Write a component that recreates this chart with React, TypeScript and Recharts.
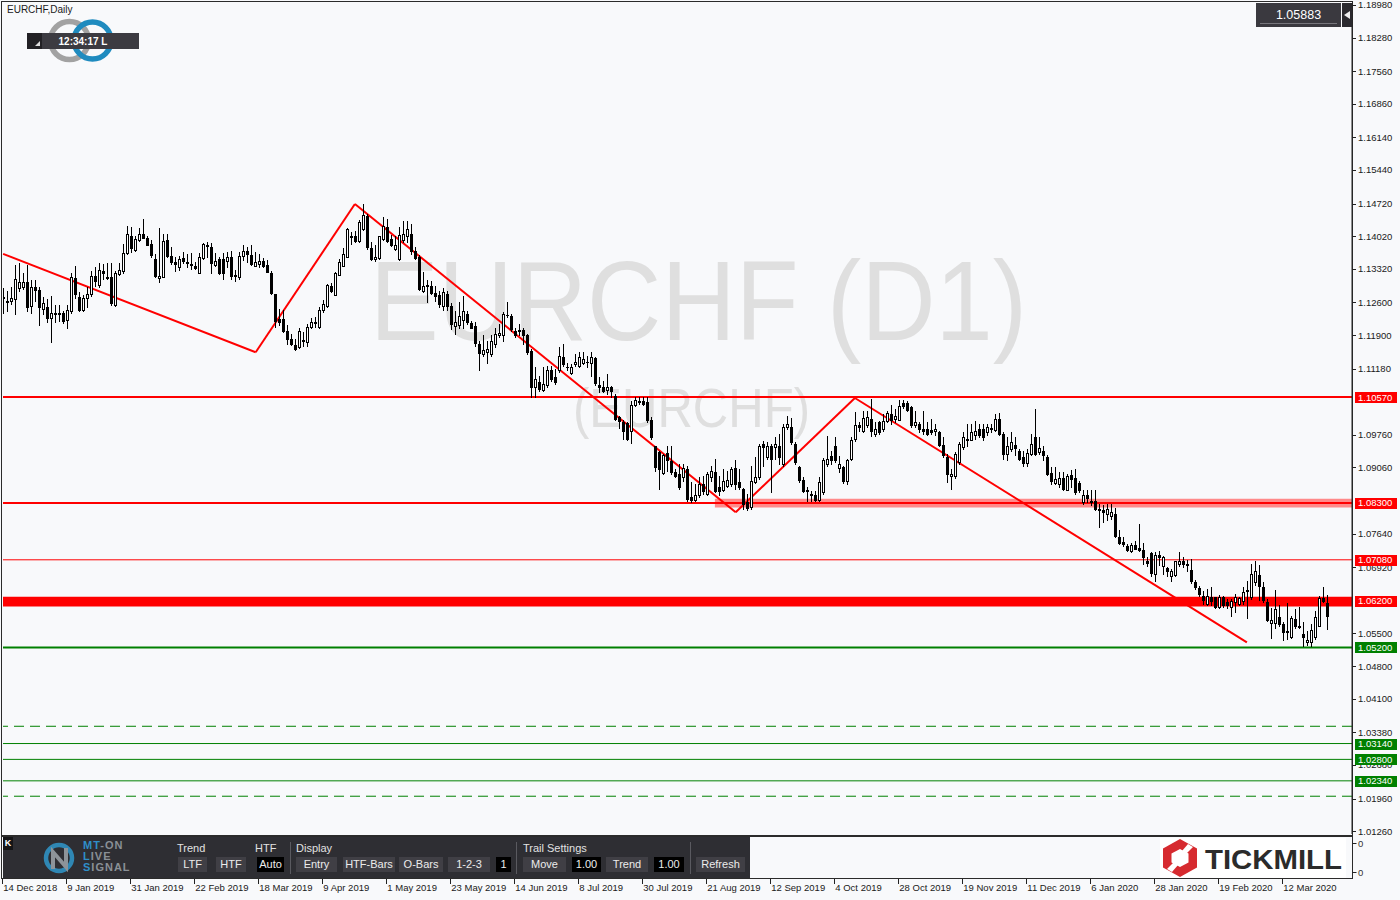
import React from 'react';
import { ComposedChart, Bar, XAxis, YAxis, ReferenceLine, ReferenceArea } from 'recharts';

type Ohlc = [number, number, number, number]; // open, high, low, close

// EURCHF daily bars
const candlesDec18ToMar19: Ohlc[] = [
  [1.1270, 1.1291, 1.1237, 1.1272], [1.1263, 1.1285, 1.1242, 1.1261], [1.1264, 1.1294, 1.1257, 1.1270],
  [1.1267, 1.1340, 1.1235, 1.1310], [1.1291, 1.1344, 1.1285, 1.1304], [1.1294, 1.1323, 1.1289, 1.1304],
  [1.1304, 1.1340, 1.1242, 1.1250], [1.1252, 1.1307, 1.1237, 1.1294], [1.1294, 1.1308, 1.1264, 1.1287],
  [1.1287, 1.1294, 1.1212, 1.1251], [1.1246, 1.1271, 1.1235, 1.1259], [1.1250, 1.1267, 1.1217, 1.1227],
  [1.1227, 1.1274, 1.1175, 1.1237], [1.1237, 1.1255, 1.1217, 1.1235], [1.1237, 1.1255, 1.1221, 1.1235],
  [1.1237, 1.1242, 1.1215, 1.1220], [1.1222, 1.1255, 1.1205, 1.1244], [1.1242, 1.1323, 1.1238, 1.1314],
  [1.1312, 1.1337, 1.1269, 1.1278], [1.1272, 1.1282, 1.1241, 1.1244], [1.1244, 1.1276, 1.1241, 1.1270],
  [1.1270, 1.1294, 1.1251, 1.1278], [1.1278, 1.1328, 1.1274, 1.1317], [1.1317, 1.1335, 1.1296, 1.1305],
  [1.1297, 1.1344, 1.1294, 1.1329], [1.1328, 1.1342, 1.1310, 1.1322], [1.1314, 1.1344, 1.1310, 1.1312],
  [1.1314, 1.1344, 1.1255, 1.1258], [1.1255, 1.1328, 1.1253, 1.1324], [1.1321, 1.1344, 1.1319, 1.1330],
  [1.1328, 1.1385, 1.1323, 1.1366], [1.1366, 1.1424, 1.1364, 1.1407], [1.1403, 1.1422, 1.1367, 1.1377],
  [1.1372, 1.1403, 1.1371, 1.1396], [1.1394, 1.1419, 1.1392, 1.1407], [1.1407, 1.1439, 1.1398, 1.1399],
  [1.1399, 1.1403, 1.1383, 1.1384], [1.1385, 1.1394, 1.1358, 1.1362], [1.1353, 1.1364, 1.1315, 1.1316],
  [1.1312, 1.1419, 1.1303, 1.1316], [1.1315, 1.1407, 1.1314, 1.1392], [1.1394, 1.1407, 1.1357, 1.1359],
  [1.1359, 1.1378, 1.1342, 1.1347], [1.1346, 1.1357, 1.1327, 1.1342], [1.1335, 1.1360, 1.1330, 1.1354],
  [1.1355, 1.1369, 1.1344, 1.1349], [1.1347, 1.1364, 1.1335, 1.1344], [1.1342, 1.1365, 1.1332, 1.1340],
  [1.1339, 1.1346, 1.1332, 1.1334], [1.1324, 1.1365, 1.1323, 1.1357], [1.1355, 1.1387, 1.1353, 1.1385],
  [1.1382, 1.1389, 1.1357, 1.1380], [1.1379, 1.1387, 1.1324, 1.1344], [1.1340, 1.1365, 1.1339, 1.1348],
  [1.1353, 1.1358, 1.1321, 1.1322], [1.1353, 1.1365, 1.1310, 1.1324], [1.1349, 1.1367, 1.1335, 1.1358],
];

const candlesMar19ToMay19: Ohlc[] = [
  [1.1357, 1.1371, 1.1310, 1.1316], [1.1317, 1.1330, 1.1305, 1.1319], [1.1314, 1.1368, 1.1310, 1.1360],
  [1.1360, 1.1382, 1.1350, 1.1371], [1.1371, 1.1378, 1.1346, 1.1364], [1.1362, 1.1382, 1.1340, 1.1343],
  [1.1339, 1.1368, 1.1338, 1.1346], [1.1343, 1.1363, 1.1335, 1.1348], [1.1348, 1.1355, 1.1335, 1.1338],
  [1.1341, 1.1350, 1.1325, 1.1326], [1.1323, 1.1328, 1.1278, 1.1281], [1.1277, 1.1278, 1.1207, 1.1221],
  [1.1225, 1.1245, 1.1211, 1.1219], [1.1225, 1.1243, 1.1196, 1.1198], [1.1198, 1.1211, 1.1171, 1.1181],
  [1.1182, 1.1193, 1.1168, 1.1171], [1.1168, 1.1182, 1.1157, 1.1159], [1.1164, 1.1205, 1.1162, 1.1198],
  [1.1177, 1.1196, 1.1166, 1.1179], [1.1175, 1.1214, 1.1166, 1.1207], [1.1207, 1.1226, 1.1205, 1.1218],
  [1.1217, 1.1228, 1.1207, 1.1216], [1.1207, 1.1250, 1.1205, 1.1243], [1.1243, 1.1266, 1.1239, 1.1257],
  [1.1253, 1.1300, 1.1250, 1.1298], [1.1295, 1.1302, 1.1283, 1.1285], [1.1276, 1.1326, 1.1275, 1.1323],
  [1.1319, 1.1352, 1.1318, 1.1346], [1.1339, 1.1376, 1.1338, 1.1364], [1.1358, 1.1420, 1.1357, 1.1418],
  [1.1400, 1.1412, 1.1385, 1.1402], [1.1403, 1.1414, 1.1389, 1.1391], [1.1391, 1.1437, 1.1389, 1.1432],
  [1.1418, 1.1471, 1.1416, 1.1448], [1.1446, 1.1450, 1.1375, 1.1378], [1.1376, 1.1389, 1.1350, 1.1352],
  [1.1352, 1.1383, 1.1348, 1.1357], [1.1355, 1.1403, 1.1353, 1.1402], [1.1396, 1.1443, 1.1394, 1.1423],
  [1.1421, 1.1438, 1.1389, 1.1391], [1.1396, 1.1405, 1.1380, 1.1382], [1.1375, 1.1403, 1.1373, 1.1382],
  [1.1352, 1.1421, 1.1350, 1.1405], [1.1393, 1.1435, 1.1389, 1.1407], [1.1403, 1.1435, 1.1389, 1.1418],
  [1.1407, 1.1428, 1.1364, 1.1371], [1.1370, 1.1378, 1.1353, 1.1355], [1.1357, 1.1362, 1.1287, 1.1289],
  [1.1285, 1.1326, 1.1283, 1.1296], [1.1295, 1.1307, 1.1261, 1.1297], [1.1296, 1.1305, 1.1277, 1.1280],
  [1.1280, 1.1296, 1.1263, 1.1273], [1.1275, 1.1285, 1.1251, 1.1256], [1.1253, 1.1291, 1.1243, 1.1282],
  [1.1277, 1.1285, 1.1243, 1.1252], [1.1253, 1.1259, 1.1203, 1.1214],
];

const candlesMay19ToAug19: Ohlc[] = [
  [1.1210, 1.1242, 1.1192, 1.1219], [1.1211, 1.1260, 1.1206, 1.1230], [1.1222, 1.1274, 1.1206, 1.1242],
  [1.1235, 1.1242, 1.1214, 1.1217], [1.1215, 1.1221, 1.1205, 1.1206], [1.1210, 1.1217, 1.1167, 1.1172],
  [1.1171, 1.1178, 1.1114, 1.1151], [1.1149, 1.1189, 1.1146, 1.1158], [1.1153, 1.1178, 1.1131, 1.1160],
  [1.1149, 1.1189, 1.1146, 1.1178], [1.1171, 1.1206, 1.1164, 1.1192], [1.1189, 1.1214, 1.1185, 1.1194],
  [1.1189, 1.1239, 1.1178, 1.1235], [1.1233, 1.1260, 1.1228, 1.1234], [1.1231, 1.1235, 1.1199, 1.1203],
  [1.1199, 1.1206, 1.1185, 1.1189], [1.1199, 1.1214, 1.1189, 1.1200], [1.1201, 1.1206, 1.1171, 1.1189],
  [1.1189, 1.1192, 1.1149, 1.1153], [1.1156, 1.1160, 1.1057, 1.1078], [1.1078, 1.1121, 1.1057, 1.1096],
  [1.1089, 1.1103, 1.1071, 1.1074], [1.1072, 1.1122, 1.1071, 1.1085], [1.1082, 1.1124, 1.1078, 1.1114],
  [1.1114, 1.1124, 1.1092, 1.1096], [1.1099, 1.1117, 1.1085, 1.1089], [1.1114, 1.1164, 1.1110, 1.1144],
  [1.1142, 1.1171, 1.1124, 1.1128], [1.1122, 1.1131, 1.1114, 1.1121], [1.1108, 1.1128, 1.1107, 1.1121],
  [1.1127, 1.1149, 1.1124, 1.1132], [1.1124, 1.1153, 1.1121, 1.1142], [1.1131, 1.1153, 1.1128, 1.1139],
  [1.1133, 1.1146, 1.1121, 1.1132], [1.1129, 1.1153, 1.1103, 1.1142], [1.1140, 1.1142, 1.1082, 1.1087],
  [1.1082, 1.1099, 1.1067, 1.1078], [1.1079, 1.1092, 1.1067, 1.1071], [1.1072, 1.1106, 1.1064, 1.1079],
  [1.1079, 1.1081, 1.1057, 1.1071], [1.1060, 1.1064, 1.1007, 1.1010], [1.1014, 1.1017, 1.0991, 1.1005],
  [1.1004, 1.1007, 1.0967, 1.0985], [1.1001, 1.1003, 1.0964, 1.0967], [1.0985, 1.1049, 1.0958, 1.1039],
  [1.1039, 1.1058, 1.1037, 1.1051], [1.1046, 1.1057, 1.1042, 1.1049], [1.1049, 1.1057, 1.1039, 1.1042],
  [1.1046, 1.1058, 1.1003, 1.1007], [1.1008, 1.1014, 1.0967, 1.0971], [1.0951, 1.0953, 1.0899, 1.0907],
  [1.0939, 1.0942, 1.0860, 1.0903], [1.0894, 1.0935, 1.0892, 1.0932], [1.0937, 1.0953, 1.0899, 1.0921],
  [1.0919, 1.0953, 1.0892, 1.0896],
];

const candlesAug19ToOct19: Ohlc[] = [
  [1.0896, 1.0903, 1.0885, 1.0888], [1.0892, 1.0913, 1.0860, 1.0864], [1.0885, 1.0913, 1.0878, 1.0905],
  [1.0903, 1.0910, 1.0835, 1.0839], [1.0842, 1.0874, 1.0831, 1.0836], [1.0836, 1.0871, 1.0835, 1.0846],
  [1.0846, 1.0885, 1.0842, 1.0871], [1.0871, 1.0888, 1.0849, 1.0856], [1.0849, 1.0896, 1.0846, 1.0891],
  [1.0885, 1.0910, 1.0878, 1.0898], [1.0896, 1.0924, 1.0853, 1.0856], [1.0864, 1.0888, 1.0846, 1.0855],
  [1.0858, 1.0903, 1.0855, 1.0878], [1.0867, 1.0899, 1.0864, 1.0880], [1.0871, 1.0908, 1.0867, 1.0903],
  [1.0905, 1.0921, 1.0860, 1.0871], [1.0874, 1.0903, 1.0860, 1.0864], [1.0860, 1.0862, 1.0817, 1.0828],
  [1.0831, 1.0849, 1.0814, 1.0819], [1.0821, 1.0910, 1.0817, 1.0878], [1.0874, 1.0929, 1.0872, 1.0886],
  [1.0885, 1.0956, 1.0881, 1.0953], [1.0956, 1.0963, 1.0910, 1.0949], [1.0928, 1.0960, 1.0924, 1.0953],
  [1.0953, 1.0956, 1.0853, 1.0924], [1.0949, 1.0971, 1.0924, 1.0956], [1.0953, 1.0978, 1.0913, 1.0928],
  [1.0913, 1.0999, 1.0910, 1.0992], [1.0992, 1.1017, 1.0988, 1.0999], [1.0992, 1.1013, 1.0956, 1.0960],
  [1.0956, 1.0960, 1.0913, 1.0917], [1.0908, 1.0910, 1.0874, 1.0879], [1.0879, 1.0885, 1.0853, 1.0856],
  [1.0857, 1.0864, 1.0835, 1.0855], [1.0849, 1.0856, 1.0835, 1.0846], [1.0848, 1.0856, 1.0834, 1.0836],
  [1.0836, 1.0885, 1.0834, 1.0874], [1.0853, 1.0926, 1.0849, 1.0921], [1.0913, 1.0974, 1.0910, 1.0924],
  [1.0931, 1.0942, 1.0913, 1.0921], [1.0951, 1.0972, 1.0917, 1.0921], [1.0905, 1.0931, 1.0896, 1.0913],
  [1.0908, 1.0910, 1.0872, 1.0876], [1.0878, 1.0924, 1.0871, 1.0921], [1.0924, 1.0971, 1.0921, 1.0965],
  [1.0967, 1.1024, 1.0963, 1.0996], [1.0996, 1.1003, 1.0985, 1.0992], [1.0985, 1.1028, 1.0981, 1.1013],
  [1.0996, 1.1028, 1.0992, 1.1015], [1.1010, 1.1053, 1.0974, 1.0985], [1.0978, 1.1003, 1.0974, 1.0988],
  [1.1003, 1.1006, 1.0978, 1.0981], [1.0988, 1.1021, 1.0985, 1.1006], [1.1006, 1.1028, 1.1003, 1.1022],
  [1.1021, 1.1039, 1.0999, 1.1008],
];

const candlesOct19ToJan20: Ohlc[] = [
  [1.1010, 1.1032, 1.1003, 1.1017], [1.1008, 1.1051, 1.1007, 1.1037], [1.1044, 1.1051, 1.1034, 1.1037],
  [1.1044, 1.1048, 1.1027, 1.1030], [1.1035, 1.1037, 1.0992, 1.0996], [1.0996, 1.1028, 1.0992, 1.1003],
  [1.1000, 1.1003, 1.0982, 1.0989], [1.0989, 1.1028, 1.0978, 1.0985], [1.0989, 1.1003, 1.0975, 1.0978],
  [1.0987, 1.1010, 1.0978, 1.0982], [1.0984, 1.1000, 1.0975, 1.0989], [1.0982, 1.0985, 1.0953, 1.0955],
  [1.0955, 1.0971, 1.0928, 1.0932], [1.0928, 1.0935, 1.0875, 1.0892], [1.0887, 1.0903, 1.0860, 1.0891],
  [1.0887, 1.0939, 1.0884, 1.0934], [1.0917, 1.0960, 1.0914, 1.0957], [1.0950, 1.0982, 1.0946, 1.0971],
  [1.0967, 1.1000, 1.0953, 1.0964], [1.0965, 1.1000, 1.0964, 1.0982], [1.0975, 1.1005, 1.0967, 1.0985],
  [1.0989, 1.1000, 1.0971, 1.0975], [1.0989, 1.1000, 1.0964, 1.0971], [1.0982, 1.1000, 1.0975, 1.0992],
  [1.0990, 1.1000, 1.0982, 1.0989], [1.0987, 1.1021, 1.0985, 1.1010], [1.1010, 1.1022, 1.0975, 1.0978],
  [1.0978, 1.0982, 1.0925, 1.0935], [1.0934, 1.0971, 1.0921, 1.0951], [1.0946, 1.0982, 1.0942, 1.0960],
  [1.0955, 1.0971, 1.0932, 1.0948], [1.0941, 1.0946, 1.0921, 1.0925], [1.0928, 1.0942, 1.0910, 1.0915],
  [1.0915, 1.0946, 1.0910, 1.0937], [1.0934, 1.0978, 1.0932, 1.0957], [1.0971, 1.1032, 1.0932, 1.0935],
  [1.0939, 1.0971, 1.0935, 1.0948], [1.0942, 1.0953, 1.0921, 1.0932], [1.0928, 1.0932, 1.0889, 1.0892],
  [1.0894, 1.0907, 1.0871, 1.0877], [1.0873, 1.0907, 1.0870, 1.0882], [1.0871, 1.0896, 1.0864, 1.0884],
  [1.0884, 1.0896, 1.0857, 1.0860], [1.0858, 1.0892, 1.0857, 1.0887], [1.0889, 1.0901, 1.0864, 1.0882],
  [1.0884, 1.0903, 1.0850, 1.0853], [1.0873, 1.0878, 1.0853, 1.0857], [1.0832, 1.0857, 1.0828, 1.0848],
  [1.0846, 1.0858, 1.0832, 1.0841], [1.0832, 1.0858, 1.0825, 1.0835], [1.0835, 1.0858, 1.0814, 1.0818],
  [1.0818, 1.0827, 1.0778, 1.0814], [1.0814, 1.0825, 1.0789, 1.0810], [1.0807, 1.0827, 1.0793, 1.0818],
  [1.0801, 1.0827, 1.0796, 1.0810],
];

const candlesJan20ToMar20: Ohlc[] = [
  [1.0807, 1.0820, 1.0756, 1.0760], [1.0757, 1.0772, 1.0742, 1.0745], [1.0747, 1.0756, 1.0738, 1.0742],
  [1.0738, 1.0742, 1.0727, 1.0729], [1.0726, 1.0745, 1.0724, 1.0740], [1.0740, 1.0749, 1.0731, 1.0732],
  [1.0733, 1.0785, 1.0727, 1.0729], [1.0729, 1.0745, 1.0700, 1.0715], [1.0705, 1.0713, 1.0695, 1.0702],
  [1.0722, 1.0724, 1.0674, 1.0679], [1.0677, 1.0724, 1.0662, 1.0719], [1.0719, 1.0727, 1.0697, 1.0713],
  [1.0695, 1.0717, 1.0677, 1.0715], [1.0690, 1.0693, 1.0674, 1.0685], [1.0674, 1.0688, 1.0662, 1.0685],
  [1.0676, 1.0706, 1.0674, 1.0705], [1.0699, 1.0724, 1.0695, 1.0705], [1.0705, 1.0713, 1.0693, 1.0700],
  [1.0700, 1.0707, 1.0685, 1.0697], [1.0686, 1.0710, 1.0658, 1.0662], [1.0660, 1.0665, 1.0645, 1.0649],
  [1.0648, 1.0652, 1.0631, 1.0635], [1.0631, 1.0642, 1.0613, 1.0622], [1.0613, 1.0645, 1.0610, 1.0631],
  [1.0629, 1.0649, 1.0610, 1.0620], [1.0628, 1.0629, 1.0605, 1.0606], [1.0606, 1.0633, 1.0605, 1.0629],
  [1.0628, 1.0631, 1.0606, 1.0610], [1.0617, 1.0624, 1.0605, 1.0610], [1.0606, 1.0624, 1.0588, 1.0620],
  [1.0617, 1.0635, 1.0595, 1.0628], [1.0613, 1.0629, 1.0610, 1.0626], [1.0620, 1.0650, 1.0613, 1.0640],
  [1.0643, 1.0662, 1.0583, 1.0642], [1.0628, 1.0699, 1.0624, 1.0678], [1.0660, 1.0706, 1.0655, 1.0683],
  [1.0676, 1.0697, 1.0622, 1.0652], [1.0650, 1.0660, 1.0617, 1.0622], [1.0617, 1.0624, 1.0576, 1.0579],
  [1.0573, 1.0605, 1.0540, 1.0578], [1.0572, 1.0643, 1.0562, 1.0603], [1.0586, 1.0610, 1.0567, 1.0570],
  [1.0570, 1.0574, 1.0536, 1.0553], [1.0553, 1.0615, 1.0538, 1.0556], [1.0542, 1.0588, 1.0540, 1.0583],
  [1.0581, 1.0603, 1.0562, 1.0567], [1.0566, 1.0606, 1.0562, 1.0564], [1.0549, 1.0574, 1.0524, 1.0542],
  [1.0531, 1.0556, 1.0526, 1.0536], [1.0531, 1.0570, 1.0524, 1.0558], [1.0542, 1.0599, 1.0538, 1.0585],
  [1.0567, 1.0631, 1.0565, 1.0626], [1.0626, 1.0650, 1.0617, 1.0620], [1.0615, 1.0633, 1.0560, 1.0588],
];

const dateLabels = [
  '14 Dec 2018', '9 Jan 2019', '31 Jan 2019', '22 Feb 2019', '18 Mar 2019', '9 Apr 2019', '1 May 2019',
  '23 May 2019', '14 Jun 2019', '8 Jul 2019', '30 Jul 2019', '21 Aug 2019', '12 Sep 2019', '4 Oct 2019',
  '28 Oct 2019', '19 Nov 2019', '11 Dec 2019', '6 Jan 2020', '28 Jan 2020', '19 Feb 2020', '12 Mar 2020',
];
const dateTickBars = [0, 16, 32, 48, 64, 80, 96, 112, 128, 144, 160, 176, 192, 208, 224, 240, 256, 272, 288, 304, 320];

const priceTicks = [
  1.1898, 1.1828, 1.1756, 1.1686, 1.1614, 1.1544, 1.1472, 1.1402, 1.1332, 1.126, 1.119, 1.1118,
  1.0976, 1.0906, 1.0764, 1.0692, 1.055, 1.048, 1.041, 1.0338, 1.0268, 1.0196, 1.0126,
];
const redLevels = [1.1057, 1.083, 1.0708, 1.062];
const greenLevels = [1.052, 1.0314, 1.028, 1.0234];
const dashedGreenLevels = [1.0351, 1.0201];

// zigzag trend lines: bar index and price at each turning point
const zigzagBars = [-0.05, 63.1, 87.9, 183.1, 212.9, 310.9];
const zigzagPrices = [1.1364, 1.1153, 1.1471, 1.081, 1.1055, 1.0531];

const currentBid = 1.05883;

const candles = [
  ...candlesDec18ToMar19, ...candlesMar19ToMay19, ...candlesMay19ToAug19,
  ...candlesAug19ToOct19, ...candlesOct19ToJan20, ...candlesJan20ToMar20,
].map(([o, h, l, c], i) => ({ i, o, h, l, c }));

const BG = '#f8f9fb';
const SANS = '"Liberation Sans", Arial, sans-serif';
const NARROW = '"Liberation Sans Narrow", "Liberation Sans", Arial, sans-serif';
const PLOT_RIGHT = 1352;

const Candle = (props: any) => {
  const { x, y, width, height, payload } = props;
  if (x == null || !payload) return null;
  const { o, h, l, c } = payload;
  const range = h - l || 1e-9;
  const py = (p: number) => y + ((h - p) / range) * height;
  const cx = Math.round(x + width / 2) + 0.5;
  const top = Math.round(py(Math.max(o, c))) + 0.5;
  const bot = Math.round(py(Math.min(o, c))) + 0.5;
  const up = c >= o;
  return (
    <g>
      <line x1={cx} x2={cx} y1={Math.round(y)} y2={Math.round(y + height) + 1} stroke="#000" strokeWidth={1} />
      {bot - top < 1 ? (
        <line x1={cx - 1.5} x2={cx + 1.5} y1={top} y2={top} stroke="#000" strokeWidth={1} />
      ) : (
        <rect x={cx - 1} y={top} width={2} height={bot - top} fill={up ? '#fff' : '#000'} stroke="#000" strokeWidth={1} />
      )}
    </g>
  );
};

const PriceTick = (props: any) => {
  const { y, payload } = props;
  const v: number = payload.value;
  const isRed = redLevels.includes(v);
  const isGreen = greenLevels.includes(v);
  const yy = Math.round(y) + 0.5;
  if (isRed || isGreen) {
    return (
      <g>
        <rect x={PLOT_RIGHT + 3} y={Math.round(y) - 5} width={42} height={11} fill={isRed ? '#ff0000' : '#008000'} />
        <text x={PLOT_RIGHT + 6} y={y + 3.5} fill="#fff" fontSize={9.5} fontFamily={SANS}>{v.toFixed(5)}</text>
      </g>
    );
  }
  return (
    <g>
      <line x1={PLOT_RIGHT} x2={PLOT_RIGHT + 4} y1={yy} y2={yy} stroke="#222" />
      <text x={PLOT_RIGHT + 6} y={y + 3.5} fill="#1a1a1a" fontSize={9.5} fontFamily={SANS}>{v.toFixed(5)}</text>
    </g>
  );
};

const DateTick = (props: any) => {
  const { x, payload } = props;
  const k = dateTickBars.indexOf(payload.value);
  const xx = Math.round(x) - 0.5;
  return (
    <g>
      <line x1={xx} x2={xx} y1={879} y2={884} stroke="#222" />
      <text x={x} y={890.5} fill="#1a1a1a" fontSize={9.5} fontFamily={SANS}>{dateLabels[k]}</text>
    </g>
  );
};

// toolbar children are positioned relative to the dark panel (left 3, top 837)
const ToolBtn = ({ x, w, label, dark }: { x: number; w: number; label: string; dark?: boolean }) => (
  <div style={{
    position: 'absolute', left: x, top: 20, width: w, height: 15, background: dark ? '#000' : '#403f45',
    color: '#ececec', fontSize: 11, lineHeight: '15px', textAlign: 'center', fontFamily: NARROW,
  }}>{label}</div>
);

const ToolLabel = ({ x, label }: { x: number; label: string }) => (
  <div style={{ position: 'absolute', left: x, top: 5, color: '#e2e2e2', fontSize: 11, lineHeight: '13px', fontFamily: NARROW, whiteSpace: 'nowrap' }}>{label}</div>
);

const Toolbar = () => (
  <div style={{ position: 'absolute', left: 3, top: 837, width: 747, height: 41, background: '#2e2e33' }}>
    <div style={{ position: 'absolute', left: 0, top: 0, width: 10, height: 13, background: '#151517', color: '#fff', fontSize: 9, fontWeight: 700, lineHeight: '13px', textAlign: 'center', fontFamily: SANS }}>K</div>
    <svg style={{ position: 'absolute', left: 36, top: 3 }} width={46} height={36}>
      <circle cx={20} cy={18} r={13} fill="none" stroke="#2f87b4" strokeWidth={4.5} />
      <path d="M14 29 L14 12 L27 27 L27 8" fill="none" stroke="#8d9399" strokeWidth={4} />
    </svg>
    <div style={{ position: 'absolute', left: 80, top: 3, fontFamily: SANS, fontWeight: 700, fontSize: 11, lineHeight: '11px', letterSpacing: 1 }}>
      <div><span style={{ color: '#2f8fc8' }}>MT</span><span style={{ color: '#8a9096' }}>-ON</span></div>
      <div><span style={{ color: '#2f8fc8' }}>L</span><span style={{ color: '#8a9096' }}>IVE</span></div>
      <div><span style={{ color: '#2f8fc8' }}>S</span><span style={{ color: '#8a9096' }}>IGNAL</span></div>
    </div>
    <ToolLabel x={174} label="Trend" />
    <ToolLabel x={252} label="HTF" />
    <ToolLabel x={293} label="Display" />
    <ToolLabel x={520} label="Trail Settings" />
    <ToolBtn x={175} w={29} label="LTF" />
    <ToolBtn x={213} w={30} label="HTF" />
    <ToolBtn x={254} w={27} label="Auto" dark />
    <ToolBtn x={293} w={41} label="Entry" />
    <ToolBtn x={340} w={52} label="HTF-Bars" />
    <ToolBtn x={396} w={44} label="O-Bars" />
    <ToolBtn x={445} w={42} label="1-2-3" />
    <ToolBtn x={493} w={15} label="1" dark />
    <ToolBtn x={520} w={43} label="Move" />
    <ToolBtn x={569} w={29} label="1.00" dark />
    <ToolBtn x={603} w={42} label="Trend" />
    <ToolBtn x={651} w={30} label="1.00" dark />
    <ToolBtn x={693} w={49} label="Refresh" />
    {[287, 513, 687].map((sx) => (
      <div key={sx} style={{ position: 'absolute', left: sx, top: 5, width: 1, height: 32, background: '#5a5a60' }} />
    ))}
  </div>
);

const TickmillLogo = () => (
  <svg style={{ position: 'absolute', left: 1160, top: 838 }} width={186} height={40}>
    <rect width={186} height={40} fill="#fff" />
    <polygon points="20,1 37,10.5 37,29.5 20,39 3,29.5 3,10.5" fill="#d62a2f" />
    <polygon points="20,11 28.5,15.5 28.5,24.5 20,29 11.5,24.5 11.5,15.5" fill="#fff" />
    <polygon points="28,6 33,9 25,17 22,13" fill="#fff" />
    <polygon points="12,34 7,31 15,23 18,27" fill="#fff" />
    <text x={45} y={31} fontSize={28} fontWeight={700} fill="#2b2b2b" fontFamily={SANS} textLength={137} lengthAdjust="spacingAndGlyphs">TICKMILL</text>
  </svg>
);

export default function App() {
  const zigzag = zigzagBars.slice(1).map((b, k) => [
    { x: zigzagBars[k], y: zigzagPrices[k] },
    { x: b, y: zigzagPrices[k + 1] },
  ]);

  return (
    <div style={{ position: 'absolute', left: 0, top: 0, width: 1400, height: 900, background: BG, overflow: 'hidden' }}>
      {/* frames and watermark sit behind the transparent chart */}
      <svg style={{ position: 'absolute', left: 0, top: 0 }} width={1400} height={900}>
        <text x={370} y={340} fontSize={114} fill="#dfdfdf" fontFamily={SANS} textLength={657} lengthAdjust="spacingAndGlyphs">EURCHF (D1)</text>
        <text x={573} y={427} fontSize={55} fill="#dfdfdf" fontFamily={SANS} textLength={237} lengthAdjust="spacingAndGlyphs">(EURCHF)</text>
        <rect x={1.5} y={1.5} width={1351} height={834} fill="none" stroke="#2b2b2b" />
        <rect x={1.5} y={836.5} width={1351} height={42} fill="none" stroke="#2b2b2b" />
        <line x1={1352.5} x2={1356.5} y1={843.5} y2={843.5} stroke="#222" />
        <line x1={1352.5} x2={1356.5} y1={872.5} y2={872.5} stroke="#222" />
        <text x={1358} y={847} fontSize={9.5} fill="#333" fontFamily={SANS}>0</text>
        <text x={1358} y={876} fontSize={9.5} fill="#333" fontFamily={SANS}>0</text>
      </svg>

      <div style={{ position: 'absolute', left: 0, top: 0 }}>
        <ComposedChart width={1400} height={900} data={candles} margin={{ top: 3, right: 0, bottom: 0, left: 3 }}>
          <XAxis
            type="number" dataKey="i" domain={[-0.075, 337.175]} allowDataOverflow
            ticks={dateTickBars} interval={0} tick={DateTick} tickLine={false} axisLine={false} height={66}
          />
          <YAxis
            orientation="right" type="number" domain={[1.0120, 1.1902]} allowDataOverflow
            ticks={[...priceTicks, ...redLevels, ...greenLevels]} interval={0} tick={PriceTick}
            tickLine={false} axisLine={{ stroke: '#222' }} width={48}
          />
          <ReferenceArea y1={1.0608} y2={1.0629} fill="#ff0000" fillOpacity={1} stroke="none" zIndex={10} />
          <ReferenceArea x1={177.9} x2={337.175} y1={1.0820} y2={1.0839} fill="#ff8a8a" fillOpacity={1} stroke="none" zIndex={10} />
          {zigzag.map((seg, k) => (
            <ReferenceLine key={'z' + k} segment={seg} stroke="#ff0000" strokeWidth={2} zIndex={15} />
          ))}
          <ReferenceLine y={1.1057} stroke="#ff0000" strokeWidth={2} zIndex={20} />
          <ReferenceLine y={1.083} stroke="#ff0000" strokeWidth={2} zIndex={20} />
          <ReferenceLine y={1.0708} stroke="#ff0000" strokeWidth={1} zIndex={20} />
          <ReferenceLine y={1.052} stroke="#008000" strokeWidth={2} zIndex={20} />
          {greenLevels.slice(1).map((v) => (
            <ReferenceLine key={'g' + v} y={v} stroke="#008000" strokeWidth={1} zIndex={20} />
          ))}
          {dashedGreenLevels.map((v) => (
            <ReferenceLine key={'d' + v} y={v} stroke="#008000" strokeWidth={1} strokeDasharray="10 6" zIndex={20} />
          ))}
          <Bar dataKey={(d: any) => [d.l, d.h]} barSize={3} shape={Candle} isAnimationActive={false} />
        </ComposedChart>
      </div>

      {/* terminal overlays */}
      <div style={{ position: 'absolute', left: 7, top: 4, fontSize: 10, fontFamily: SANS, color: '#1a1a1a' }}>EURCHF,Daily</div>
      <svg style={{ position: 'absolute', left: 0, top: 0 }} width={150} height={70}>
        <circle cx={69.5} cy={40.5} r={19} fill="none" stroke="#a2a2a2" strokeWidth={5.5} />
        <circle cx={92.5} cy={40.5} r={18.5} fill="none" stroke="#1f8bbf" strokeWidth={5.5} />
        <rect x={27} y={33} width={112} height={16} fill="#3c3b41" />
        <rect x={27} y={33} width={15} height={16} fill="#222125" />
        <path d="M35 46 L40 46 L40 41 Z" fill="#ddd" />
        <text x={83} y={44.5} textAnchor="middle" fill="#fff" fontSize={10} fontWeight={700} fontFamily={SANS}>12:34:17 L</text>
      </svg>
      <svg style={{ position: 'absolute', left: 1255, top: 2 }} width={98} height={26}>
        <rect x={1} y={1} width={85} height={24} fill="#3a393f" />
        <line x1={5} x2={82} y1={21.5} y2={21.5} stroke="#77767c" />
        <text x={43.5} y={17} textAnchor="middle" fill="#fff" fontSize={12.5} fontFamily={SANS}>{currentBid.toFixed(5)}</text>
        <rect x={87} y={1} width={10} height={24} fill="#2a292e" />
        <path d="M89 13 L95 9 L95 17 Z" fill="#eee" />
      </svg>
      <Toolbar />
      <TickmillLogo />
    </div>
  );
}
